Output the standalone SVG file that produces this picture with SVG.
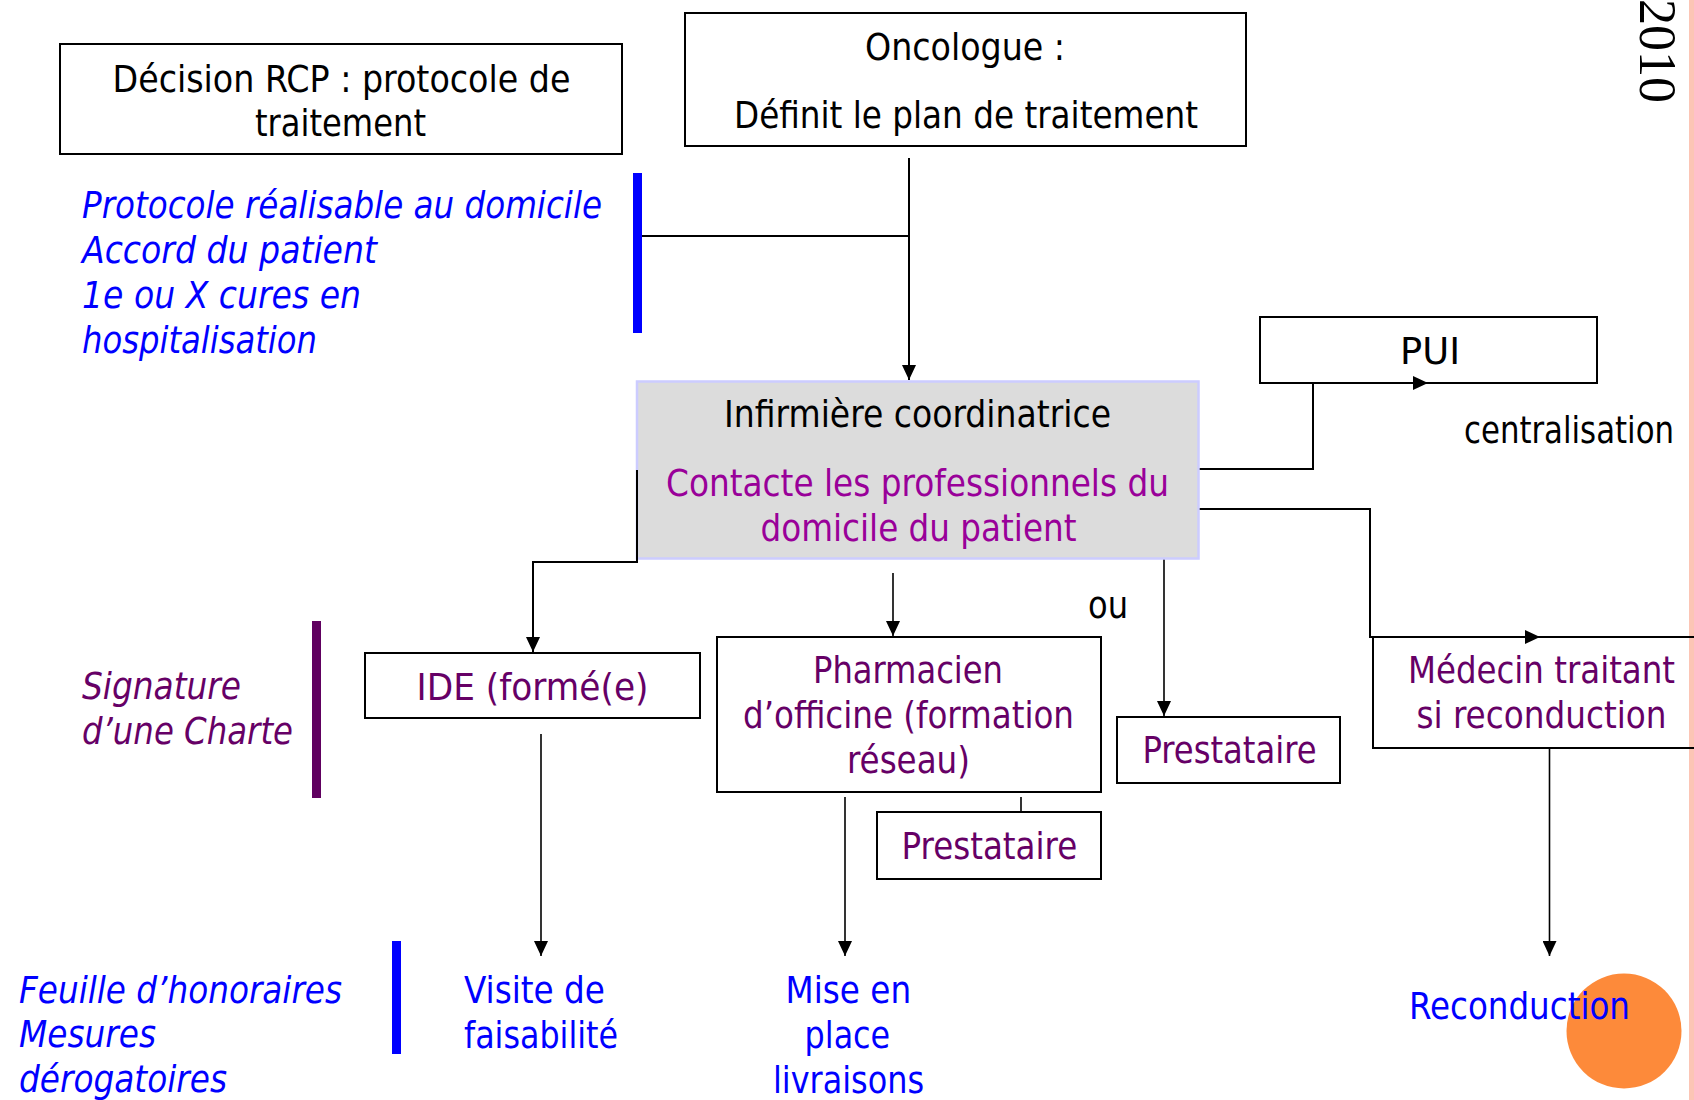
<svg xmlns="http://www.w3.org/2000/svg" width="1694" height="1100" viewBox="0 0 1694 1100">
<style>
text{font-family:"DejaVu Sans Condensed","DejaVu Sans","Liberation Sans",sans-serif;font-size:38px}
.k{fill:#000}
.pu{fill:#660066}
.mg{fill:#990099}
.bl{fill:#0000ff}
.it{font-style:italic}
.box{fill:#fff;stroke:#000;stroke-width:2}
.conn path{fill:none;stroke:#000;stroke-width:2}
</style>
<defs>
<marker id="ah" markerUnits="userSpaceOnUse" markerWidth="16" markerHeight="14" refX="15" refY="7" orient="auto">
<path d="M0,0 L15,7 L0,14 z" fill="#000"/>
</marker>
</defs>
<rect width="1694" height="1100" fill="#fff"/>
<rect x="1689" y="0" width="5" height="1100" fill="#fcc5b5"/>

<g id="annot-protocole">
<rect x="633" y="173" width="9" height="160" fill="#0000ff"/>
<text class="bl it" x="82" y="218" textLength="520" lengthAdjust="spacingAndGlyphs">Protocole réalisable au domicile</text>
<text class="bl it" x="82" y="263" textLength="295" lengthAdjust="spacingAndGlyphs">Accord du patient</text>
<text class="bl it" x="82" y="308" textLength="279" lengthAdjust="spacingAndGlyphs">1e ou X cures en</text>
<text class="bl it" x="82" y="353" textLength="235" lengthAdjust="spacingAndGlyphs">hospitalisation</text>
</g>

<g id="annot-signature">
<rect x="312" y="621" width="9" height="177" fill="#600060"/>
<text class="pu it" x="82" y="699" textLength="159" lengthAdjust="spacingAndGlyphs">Signature</text>
<text class="pu it" x="82" y="744" textLength="211" lengthAdjust="spacingAndGlyphs">d’une Charte</text>
</g>

<g id="annot-feuille">
<rect x="392" y="941" width="9" height="113" fill="#0000ff"/>
<text class="bl it" x="19" y="1003" textLength="323" lengthAdjust="spacingAndGlyphs">Feuille d’honoraires</text>
<text class="bl it" x="19" y="1047" textLength="137" lengthAdjust="spacingAndGlyphs">Mesures</text>
<text class="bl it" x="19" y="1092" textLength="208" lengthAdjust="spacingAndGlyphs">dérogatoires</text>
</g>

<g id="year">
<text transform="translate(1640,-1) rotate(90)" style="font-family:'Liberation Serif','DejaVu Serif',serif;font-size:52px" fill="#000">2010</text>
</g>

<g class="conn" id="connectors">
<path d="M642,236 H909"/>
<path d="M909,158 V380" marker-end="url(#ah)"/>
<path d="M1199,469 H1313 V383 H1428" marker-end="url(#ah)"/>
<path d="M1199,509 H1370 V637 H1540" marker-end="url(#ah)"/>
<path d="M1164,559 V716" marker-end="url(#ah)" style="stroke-width:1.6"/>
<path d="M893,573 V636" marker-end="url(#ah)" style="stroke-width:1.6"/>
<path d="M637,470 V562 H533 V652" marker-end="url(#ah)"/>
<path d="M541,734 V956" marker-end="url(#ah)" style="stroke-width:1.6"/>
<path d="M845,797 V956" marker-end="url(#ah)" style="stroke-width:1.6"/>
<path d="M1021,797 V812" style="stroke-width:1.6"/>
<path d="M1549.5,748 V956" marker-end="url(#ah)" style="stroke-width:1.6"/>
</g>

<g id="n-decision">
<rect class="box" x="60" y="44" width="562" height="110"/>
<text class="k" x="112.5" y="92" textLength="458" lengthAdjust="spacingAndGlyphs">Décision RCP : protocole de</text>
<text class="k" x="255" y="136" textLength="171" lengthAdjust="spacingAndGlyphs">traitement</text>
</g>

<g id="n-oncologue">
<rect class="box" x="685" y="13" width="561" height="133"/>
<text class="k" x="865" y="60" textLength="200" lengthAdjust="spacingAndGlyphs">Oncologue :</text>
<text class="k" x="734" y="128" textLength="464" lengthAdjust="spacingAndGlyphs">Définit le plan de traitement</text>
</g>

<g id="n-infirmiere">
<rect x="637" y="381.5" width="561.5" height="177" fill="#dcdcdc" stroke="#ccccff" stroke-width="2.5"/>
<path d="M637,470 V562" stroke="#000" stroke-width="2" fill="none"/>
<text class="k" x="724" y="427" textLength="387" lengthAdjust="spacingAndGlyphs">Infirmière coordinatrice</text>
<text class="mg" x="666" y="496" textLength="503" lengthAdjust="spacingAndGlyphs">Contacte les professionnels du</text>
<text class="mg" x="760.5" y="541" textLength="316" lengthAdjust="spacingAndGlyphs">domicile du patient</text>
</g>

<g id="n-pui">
<rect x="1260" y="317" width="337" height="66" fill="none" stroke="#000" stroke-width="2"/>
<text class="k" x="1400" y="364" textLength="60" lengthAdjust="spacingAndGlyphs">PUI</text>
</g>

<g id="l-centralisation">
<text class="k" x="1464" y="443" textLength="210" lengthAdjust="spacingAndGlyphs">centralisation</text>
</g>

<g id="l-ou">
<text class="k" x="1088" y="618" textLength="40" lengthAdjust="spacingAndGlyphs">ou</text>
</g>

<g id="n-ide">
<rect class="box" x="365" y="653" width="335" height="65"/>
<text class="pu" x="416.5" y="700" textLength="232" lengthAdjust="spacingAndGlyphs">IDE (formé(e)</text>
</g>

<g id="n-pharmacien">
<rect class="box" x="717" y="637" width="384" height="155"/>
<text class="pu" x="813" y="683" textLength="190" lengthAdjust="spacingAndGlyphs">Pharmacien</text>
<text class="pu" x="743" y="728" textLength="331" lengthAdjust="spacingAndGlyphs">d’officine (formation</text>
<text class="pu" x="847" y="773" textLength="123" lengthAdjust="spacingAndGlyphs">réseau)</text>
</g>

<g id="n-prestataire1">
<rect class="box" x="1117" y="717" width="223" height="66"/>
<text class="pu" x="1142.5" y="763" textLength="174" lengthAdjust="spacingAndGlyphs">Prestataire</text>
</g>

<g id="n-prestataire2">
<rect class="box" x="877" y="812" width="224" height="67"/>
<text class="pu" x="901.6" y="859" textLength="175.6" lengthAdjust="spacingAndGlyphs">Prestataire</text>
</g>

<g id="n-medecin">
<rect x="1373" y="637" width="400" height="111" fill="none" stroke="#000" stroke-width="2"/>
<text class="pu" x="1408" y="683" textLength="267" lengthAdjust="spacingAndGlyphs">Médecin traitant</text>
<text class="pu" x="1416.5" y="728" textLength="250" lengthAdjust="spacingAndGlyphs">si reconduction</text>
</g>

<g id="n-visite">
<text class="bl" x="464" y="1003" textLength="141" lengthAdjust="spacingAndGlyphs">Visite de</text>
<text class="bl" x="464" y="1048" textLength="154" lengthAdjust="spacingAndGlyphs">faisabilité</text>
</g>

<g id="n-mise">
<text class="bl" x="785.6" y="1003" textLength="125.5" lengthAdjust="spacingAndGlyphs">Mise en</text>
<text class="bl" x="804.6" y="1048" textLength="85.6" lengthAdjust="spacingAndGlyphs">place</text>
<text class="bl" x="773" y="1093" textLength="151" lengthAdjust="spacingAndGlyphs">livraisons</text>
</g>

<g id="n-reconduction">
<circle cx="1624" cy="1031" r="57.5" fill="#fd8a3a"/>
<text class="bl" x="1409" y="1019" textLength="221" lengthAdjust="spacingAndGlyphs">Reconduction</text>
</g>
</svg>
